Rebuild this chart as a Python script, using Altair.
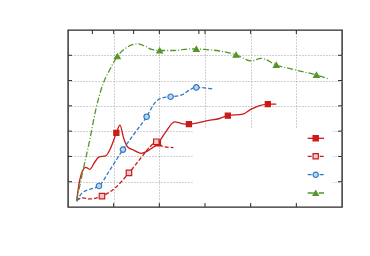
import altair as alt
import pandas as pd

# ---- data ----
red_solid_x = [0.19, 0.256, 0.322, 0.387, 0.475, 0.584, 0.678, 0.825, 0.934, 1.059, 1.138, 1.219, 1.306, 1.438, 1.606, 1.772, 1.969, 2.138, 2.335, 2.488, 2.648, 2.816, 3.028, 3.32, 3.50, 3.83, 4.013, 4.195, 4.376, 4.56]
red_solid_y = [0.26, 1.06, 1.45, 1.57, 1.49, 1.77, 1.98, 2.02, 2.33, 2.93, 3.24, 2.72, 2.37, 2.25, 2.12, 2.25, 2.52, 2.96, 3.37, 3.30, 3.28, 3.32, 3.41, 3.50, 3.61, 3.67, 3.87, 4.01, 4.07, 4.07]
red_solid_mx = [1.059, 1.969, 2.648, 3.50, 4.376]
red_solid_my = [2.93, 2.52, 3.28, 3.61, 4.07]

red_open_x = [0.19, 0.32, 0.475, 0.744, 1.022, 1.335, 1.61, 1.79, 1.934, 2.05, 2.16, 2.31]
red_open_y = [0.26, 0.36, 0.32, 0.43, 0.74, 1.35, 1.97, 2.37, 2.58, 2.42, 2.37, 2.35]
red_open_mx = [0.744, 1.335, 1.934]
red_open_my = [0.43, 1.35, 2.58]

blue_x = [0.19, 0.30, 0.475, 0.678, 0.912, 1.204, 1.46, 1.722, 1.897, 2.05, 2.247, 2.488, 2.663, 2.81, 2.99, 3.16]
blue_y = [0.22, 0.54, 0.70, 0.83, 1.45, 2.27, 2.92, 3.57, 4.11, 4.31, 4.36, 4.43, 4.63, 4.73, 4.71, 4.67]
blue_mx = [0.678, 1.204, 1.722, 2.247, 2.81]
blue_my = [0.83, 2.27, 3.57, 4.36, 4.73]

green_x = [0.19, 0.344, 0.475, 0.606, 0.759, 0.912, 1.081, 1.241, 1.394, 1.525, 1.678, 1.832, 2.007, 2.335, 2.663, 2.99, 3.32, 3.68, 4.01, 4.23, 4.56, 4.98, 5.44, 5.73]
green_y = [0.26, 1.57, 2.64, 3.83, 4.83, 5.42, 5.96, 6.25, 6.41, 6.45, 6.37, 6.23, 6.19, 6.19, 6.25, 6.23, 6.17, 6.02, 5.78, 5.88, 5.62, 5.42, 5.22, 5.05]
green_mx = [1.081, 2.007, 2.81, 3.68, 4.56, 5.44]
green_my = [5.96, 6.19, 6.25, 6.02, 5.62, 5.22]

x_ticks = [1, 2, 3, 4, 5]
x_top_ticks = [0.534, 1, 1.437, 2, 2.866, 3, 4, 5]
y_ticks = [1, 2, 3, 4, 5, 6]

RED = "#cc1a1a"
BLUE = "#2f78c4"
GREEN = "#55962a"
FRAME = "#2a2a2a"

W, H = 274, 177

xscale = alt.Scale(domain=[0, 6], nice=False, zero=False)
yscale = alt.Scale(domain=[0, 7], nice=False, zero=False)
xaxis = alt.Axis(values=x_ticks, grid=True, gridDash=[1, 2], gridColor="#a0a0a0",
                 labels=False, ticks=False, domain=False, title=None)
yaxis = alt.Axis(values=y_ticks, grid=True, gridDash=[1, 2], gridColor="#a0a0a0",
                 labels=False, ticks=False, domain=False, title=None)


def X(f="x"):
    return alt.X(f"{f}:Q", scale=xscale, axis=xaxis)


def Y(f="y"):
    return alt.Y(f"{f}:Q", scale=yscale, axis=yaxis)


def line(xv, yv, color, dash):
    df = pd.DataFrame({"x": xv, "y": yv})
    kw = dict(interpolate="monotone", color=color, strokeWidth=1.3)
    if dash:
        kw["strokeDash"] = dash
    return alt.Chart(df).mark_line(**kw).encode(x=X(), y=Y())


def pts(xv, yv, shape, color, filled, fill=None, size=28):
    df = pd.DataFrame({"x": xv, "y": yv})
    kw = dict(shape=shape, size=size, strokeWidth=1.2, opacity=1)
    if filled:
        kw.update(filled=True, fill=color, stroke=color)
    else:
        kw.update(filled=True, fill=fill or "white", stroke=color)
    return alt.Chart(df).mark_point(**kw).encode(x=X(), y=Y())


layers = [
    line(red_solid_x, red_solid_y, RED, None),
    line(red_open_x, red_open_y, RED, [4, 2]),
    line(blue_x, blue_y, BLUE, [4, 2]),
    line(green_x, green_y, GREEN, [6, 2, 1, 2]),
    pts(red_solid_mx, red_solid_my, "square", RED, True, size=26),
    pts(red_open_mx, red_open_my, "square", RED, False, fill="#f4caca", size=30),
    pts(blue_mx, blue_my, "circle", BLUE, False, fill="#bcd6f0", size=30),
    pts(green_mx, green_my, "triangle-up", GREEN, True, size=32),
]

# legend box (white, no border) in the lower right
legend_box = alt.Chart(pd.DataFrame({"a": [0]})).mark_rect(color="white").encode(
    x=alt.value(124.7), x2=alt.value(264.7), y=alt.value(98), y2=alt.value(175.5))
layers.append(legend_box)

leg_specs = [
    (108.3, RED, None, "square", True, None),
    (126.3, RED, [4, 2], "square", False, "#f4caca"),
    (144.7, BLUE, [4, 2], "circle", False, "#bcd6f0"),
    (163.0, GREEN, [6, 2, 1, 2], "triangle-up", True, None),
]
one = pd.DataFrame({"a": [0]})
for yy, col, dash, shape, filled, fill in leg_specs:
    kw = dict(color=col, strokeWidth=1.3)
    if dash:
        kw["strokeDash"] = dash
    layers.append(alt.Chart(one).mark_rule(**kw).encode(
        x=alt.value(239.7), x2=alt.value(256.0), y=alt.value(yy)))
    pk = dict(shape=shape, size=28, strokeWidth=1.2, opacity=1, filled=True, stroke=col,
              fill=col if filled else fill)
    layers.append(alt.Chart(one).mark_point(**pk).encode(
        x=alt.value(247.7), y=alt.value(yy)))

# inward ticks on all four sides
TL = 4
bt = pd.DataFrame({"x": x_ticks})
tt = pd.DataFrame({"x": x_top_ticks})
lt = pd.DataFrame({"y": y_ticks})
layers.append(alt.Chart(bt).mark_rule(color=FRAME, strokeWidth=1).encode(
    x=X(), y=alt.value(H), y2=alt.value(H - TL)))
layers.append(alt.Chart(tt).mark_rule(color=FRAME, strokeWidth=1).encode(
    x=X(), y=alt.value(0), y2=alt.value(TL)))
layers.append(alt.Chart(lt).mark_rule(color=FRAME, strokeWidth=1).encode(
    y=Y(), x=alt.value(0), x2=alt.value(TL)))
layers.append(alt.Chart(lt).mark_rule(color=FRAME, strokeWidth=1).encode(
    y=Y(), x=alt.value(W), x2=alt.value(W - TL)))

chart = alt.layer(*layers).properties(
    width=W, height=H,
    background="white",
    autosize=alt.AutoSizeParams(type="none"),
    padding={"left": 60, "top": 22, "right": 20, "bottom": 40},
).configure_view(stroke=FRAME, strokeWidth=1.4)

chart.save("out.html", embed_options={"renderer": "svg", "actions": False})
